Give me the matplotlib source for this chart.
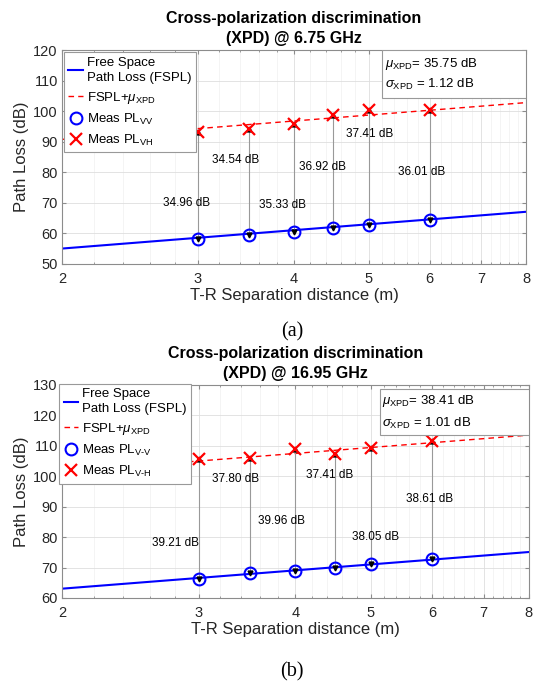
"""
XPD (cross-polarization discrimination) a 6.75 GHz y 16.95 GHz
Pérdidas de trayecto medidas VV / VH frente a FSPL.
"""
import numpy as np
import matplotlib
matplotlib.use("Agg")
import matplotlib.pyplot as plt
from matplotlib.ticker import FixedLocator, FixedFormatter, NullFormatter
from matplotlib.patches import Rectangle

plt.rcParams["font.family"] = ["Liberation Sans", "DejaVu Sans"]
plt.rcParams["mathtext.fontset"] = "custom"
plt.rcParams["mathtext.rm"] = "Liberation Sans"
plt.rcParams["mathtext.it"] = "Liberation Sans:italic"
plt.rcParams["mathtext.bf"] = "Liberation Sans:bold"

# ── Datos ─────────────────────────────────────────────────────────
dist = [3, 3.5, 4, 4.5, 5, 6]
d_fspl = [2, 8]

# (a) 6.75 GHz
fspl_a = [55.05, 67.09]
mu_a, sigma_a = 35.75, 1.12
pl_vv_a = [58.1, 59.6, 60.6, 61.8, 62.9, 64.4]
pl_vh_a = [93.1, 94.1, 95.9, 98.7, 100.3, 100.4]
xpd_a = ["34.96 dB", "34.54 dB", "35.33 dB", "36.92 dB", "37.41 dB", "36.01 dB"]
lbl_pos_a = [(2.90, 70.0), (3.36, 84.0), (3.86, 69.3), (4.35, 81.7), (5.02, 92.5), (5.86, 80.1)]

# (b) 16.95 GHz
fspl_b = [63.05, 75.09]
mu_b, sigma_b = 38.41, 1.01
pl_vv_b = [66.3, 68.2, 69.0, 69.9, 71.1, 72.8]
pl_vh_b = [105.5, 106.0, 109.0, 107.3, 109.1, 111.4]
xpd_b = ["39.21 dB", "37.80 dB", "39.96 dB", "37.41 dB", "38.05 dB", "38.61 dB"]
lbl_pos_b = [(2.80, 78.1), (3.35, 99.1), (3.84, 85.3), (4.43, 100.4), (5.08, 80.0), (5.96, 92.5)]

GRIS = "0.55"
TXT = "#262626"


def panel(ax, fspl, mu, sigma, vv, vh, etiquetas, pos, ylim, freq, sub_vv, sub_vh,
          leg_anchor, box):
    ax.set_xscale("log")
    ax.plot(d_fspl, fspl, "-", color="#0000ff", lw=1.5,
            label="Free Space\nPath Loss (FSPL)")
    ax.plot(d_fspl, np.array(fspl) + mu, "--", color="#ff0000", lw=1.0,
            dashes=(4, 3), label=r"FSPL+$\mu_{\rm XPD}$")

    # flechas dobles VV -> VH
    ax.vlines(dist, vv, vh, color="0.6", lw=0.8, zorder=2)
    ax.plot(dist, vh, "^", color="k", ms=3.5, zorder=3)
    ax.plot(dist, vv, "v", color="k", ms=3.5, zorder=3)

    ax.plot(dist, vv, "o", mfc="none", mec="#0000ff", mew=1.5, ms=8.5,
            ls="none", zorder=4, label=r"Meas PL$_{\text{%s}}$" % sub_vv)
    ax.plot(dist, vh, "x", color="#ff0000", mew=1.6, ms=8.5,
            ls="none", zorder=4, label=r"Meas PL$_{\text{%s}}$" % sub_vh)

    for t, (px, py) in zip(etiquetas, pos):
        ax.text(px, py, t, fontsize=8.5, ha="center", va="center", color="k")

    ax.set_xlim(2, 8)
    ax.set_ylim(*ylim)
    ax.xaxis.set_major_locator(FixedLocator([2, 3, 4, 5, 6, 7, 8]))
    ax.xaxis.set_major_formatter(FixedFormatter(["2", "3", "4", "5", "6", "7", "8"]))
    menores = [v for v in np.arange(2.2, 8.0, 0.2) if abs(v - round(v)) > 0.05]
    ax.xaxis.set_minor_locator(FixedLocator(menores))
    ax.xaxis.set_minor_formatter(NullFormatter())
    ax.set_yticks(np.arange(ylim[0], ylim[1] + 1, 10))

    ax.grid(True, which="major", color="0.87", lw=0.6)
    ax.grid(True, which="minor", axis="x", color="0.94", lw=0.5)
    ax.set_axisbelow(True)
    ax.tick_params(which="both", direction="in", top=True, right=True,
                   colors=TXT, labelsize=10.5)
    ax.tick_params(axis="x", pad=6)
    ax.tick_params(axis="y", pad=3)
    ax.tick_params(which="major", length=3, color=GRIS)
    ax.tick_params(which="minor", length=1.5, color=GRIS)
    for s in ax.spines.values():
        s.set_color(GRIS)
        s.set_linewidth(0.8)

    ax.set_xlabel("T-R Separation distance (m)", fontsize=12, color=TXT, labelpad=1)
    ax.set_ylabel("Path Loss (dB)", fontsize=12, color=TXT, labelpad=3)
    ax.set_title("Cross-polarization discrimination\n(XPD) @ %s" % freq,
                 fontsize=11.5, fontweight="bold", pad=5, linespacing=1.45)

    leg = ax.legend(loc="upper left", bbox_to_anchor=leg_anchor, fontsize=9.5,
                    handlelength=1.1, handletextpad=0.3, borderpad=0.35,
                    labelspacing=0.45, fancybox=False, framealpha=1,
                    borderaxespad=0)
    for t in leg.get_texts():
        t.set_linespacing(1.3)
    leg.get_frame().set_edgecolor("0.6")
    leg.get_frame().set_linewidth(0.8)

    # recuadro con media y desviación
    x0, y0, y1, yt1, yt2 = box
    ax.add_patch(Rectangle((x0, y0), 1 - x0, y1 - y0, transform=ax.transAxes,
                           fill=True, fc="white", ec="0.6", lw=0.8, zorder=5))
    ax.text(x0 + 0.005, yt1, r"$\mu_{\rm XPD}$= %.2f dB" % mu, transform=ax.transAxes,
            fontsize=9.5, va="center", ha="left", zorder=6)
    ax.text(x0 + 0.005, yt2, r"$\sigma_{\rm XPD}$ = %.2f dB" % sigma,
            transform=ax.transAxes, fontsize=9.5, va="center", ha="left", zorder=6)


fig = plt.figure(figsize=(5.39, 6.83), dpi=100)
ax1 = fig.add_axes([0.115, 0.6135, 0.861, 0.313])
ax2 = fig.add_axes([0.115, 0.1245, 0.866, 0.312])

panel(ax1, fspl_a, mu_a, sigma_a, pl_vv_a, pl_vh_a, xpd_a, lbl_pos_a, (50, 120),
      "6.75 GHz", "VV", "VH", (0.004, 0.99), (0.69, 0.776, 1.0, 0.935, 0.84))
panel(ax2, fspl_b, mu_b, sigma_b, pl_vv_b, pl_vh_b, xpd_b, lbl_pos_b, (60, 130),
      "16.95 GHz", "V-V", "V-H", (-0.006, 1.005), (0.681, 0.765, 0.981, 0.925, 0.82))

fig.text(292 / 539, 1 - 332 / 683, "(a)", family="Liberation Serif", fontsize=14.5,
         ha="center", va="center")
fig.text(292 / 539, 1 - 672 / 683, "(b)", family="Liberation Serif", fontsize=14.5,
         ha="center", va="center")

fig.savefig("out.png", dpi=100)
